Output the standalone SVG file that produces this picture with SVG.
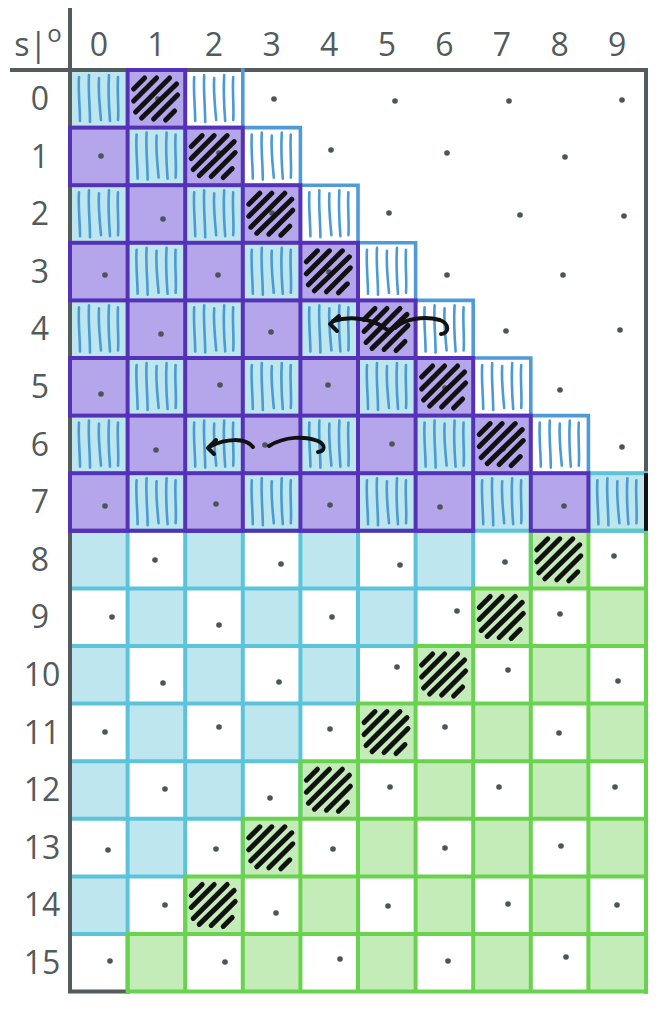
<svg xmlns="http://www.w3.org/2000/svg" xmlns:xlink="http://www.w3.org/1999/xlink" width="664" height="1010" viewBox="0 0 664 1010">
<style>
.lbl{font-family:"Open Sans","Noto Sans",sans-serif;font-size:32px;fill:#525a5b;text-anchor:middle}
.lb{fill:#bde6ee}
.gr{fill:#c4ecb8}
.pu{fill:#b5a5eb;stroke:#5432b8;stroke-width:4}
.cy{fill:none;stroke:#5bc4da;stroke-width:4;stroke-linecap:square}
.gn{fill:none;stroke:#69d34f;stroke-width:4;stroke-linecap:square}
.fr{fill:none;stroke:#535b5c;stroke-width:4;stroke-linecap:square}
.st{fill:none;stroke:#4f9bd9;stroke-width:3.6;stroke-linecap:square;stroke-linejoin:miter}
.arw{fill:none;stroke:#111;stroke-width:4;stroke-linecap:round;stroke-linejoin:round}
</style>
<defs>
<rect id="cell" width="57.6" height="57.6"/>
<g id="bh" fill="none" stroke="#4a9ad8" stroke-width="2.6" stroke-linecap="round">
<path d="M9,7 C8,20 10,38 10,51"/>
<path d="M19,5 C18,20 20,36 20,52"/>
<path d="M29,8 C28,22 30,38 31,50"/>
<path d="M39,5 C38,20 39,38 40,51"/>
<path d="M48,7 C47,22 49,38 48,50"/>
</g>
<g id="kh" fill="none" stroke="#111" stroke-width="5" stroke-linecap="round">
<path d="M6,19 L17,8"/>
<path d="M6,31 L29,8"/>
<path d="M8,42 L42,8"/>
<path d="M14,48 L49,14"/>
<path d="M26,49 L50,25"/>
<path d="M38,50 L47,41"/>
</g>
<circle id="dot" r="2.8" fill="#4b5456"/>
</defs>

<g id="labels">
<text class="lbl" x="98.8" y="56">0</text>
<text class="lbl" x="156.4" y="56">1</text>
<text class="lbl" x="214" y="56">2</text>
<text class="lbl" x="271.6" y="56">3</text>
<text class="lbl" x="329.2" y="56">4</text>
<text class="lbl" x="386.8" y="56">5</text>
<text class="lbl" x="444.4" y="56">6</text>
<text class="lbl" x="502" y="56">7</text>
<text class="lbl" x="559.6" y="56">8</text>
<text class="lbl" x="617.2" y="56">9</text>
<text class="lbl" x="40" y="110">0</text>
<text class="lbl" x="40" y="168">1</text>
<text class="lbl" x="40" y="225">2</text>
<text class="lbl" x="40" y="283">3</text>
<text class="lbl" x="40" y="340">4</text>
<text class="lbl" x="40" y="398">5</text>
<text class="lbl" x="40" y="456">6</text>
<text class="lbl" x="40" y="513">7</text>
<text class="lbl" x="40" y="571">8</text>
<text class="lbl" x="40" y="628">9</text>
<text class="lbl" x="42" y="686">10</text>
<text class="lbl" x="42" y="744">11</text>
<text class="lbl" x="42" y="801">12</text>
<text class="lbl" x="42" y="859">13</text>
<text class="lbl" x="42" y="916">14</text>
<text class="lbl" x="42" y="974">15</text>
<text class="lbl" x="38" y="56">s|<tspan font-size="24" dy="-14">o</tspan></text>
</g>

<g id="grid" transform="translate(70 70)">
<g id="fills">
<use href="#cell" class="lb" x="0" y="0"/>
<use href="#cell" class="lb" x="57.6" y="57.6"/>
<use href="#cell" class="lb" x="0" y="115.2"/>
<use href="#cell" class="lb" x="115.2" y="115.2"/>
<use href="#cell" class="lb" x="57.6" y="172.8"/>
<use href="#cell" class="lb" x="172.8" y="172.8"/>
<use href="#cell" class="lb" x="0" y="230.4"/>
<use href="#cell" class="lb" x="115.2" y="230.4"/>
<use href="#cell" class="lb" x="230.4" y="230.4"/>
<use href="#cell" class="lb" x="57.6" y="288"/>
<use href="#cell" class="lb" x="172.8" y="288"/>
<use href="#cell" class="lb" x="288" y="288"/>
<use href="#cell" class="lb" x="0" y="345.6"/>
<use href="#cell" class="lb" x="115.2" y="345.6"/>
<use href="#cell" class="lb" x="230.4" y="345.6"/>
<use href="#cell" class="lb" x="345.6" y="345.6"/>
<use href="#cell" class="lb" x="57.6" y="403.2"/>
<use href="#cell" class="lb" x="172.8" y="403.2"/>
<use href="#cell" class="lb" x="288" y="403.2"/>
<use href="#cell" class="lb" x="403.2" y="403.2"/>
<use href="#cell" class="lb" x="518.4" y="403.2"/>
<use href="#cell" class="lb" x="0" y="460.8"/>
<use href="#cell" class="lb" x="115.2" y="460.8"/>
<use href="#cell" class="lb" x="230.4" y="460.8"/>
<use href="#cell" class="lb" x="345.6" y="460.8"/>
<use href="#cell" class="lb" x="57.6" y="518.4"/>
<use href="#cell" class="lb" x="172.8" y="518.4"/>
<use href="#cell" class="lb" x="288" y="518.4"/>
<use href="#cell" class="lb" x="0" y="576"/>
<use href="#cell" class="lb" x="115.2" y="576"/>
<use href="#cell" class="lb" x="230.4" y="576"/>
<use href="#cell" class="lb" x="57.6" y="633.6"/>
<use href="#cell" class="lb" x="172.8" y="633.6"/>
<use href="#cell" class="lb" x="0" y="691.2"/>
<use href="#cell" class="lb" x="115.2" y="691.2"/>
<use href="#cell" class="lb" x="57.6" y="748.8"/>
<use href="#cell" class="lb" x="0" y="806.4"/>
<use href="#cell" class="gr" x="460.8" y="460.8"/>
<use href="#cell" class="gr" x="403.2" y="518.4"/>
<use href="#cell" class="gr" x="518.4" y="518.4"/>
<use href="#cell" class="gr" x="345.6" y="576"/>
<use href="#cell" class="gr" x="460.8" y="576"/>
<use href="#cell" class="gr" x="288" y="633.6"/>
<use href="#cell" class="gr" x="403.2" y="633.6"/>
<use href="#cell" class="gr" x="518.4" y="633.6"/>
<use href="#cell" class="gr" x="230.4" y="691.2"/>
<use href="#cell" class="gr" x="345.6" y="691.2"/>
<use href="#cell" class="gr" x="460.8" y="691.2"/>
<use href="#cell" class="gr" x="172.8" y="748.8"/>
<use href="#cell" class="gr" x="288" y="748.8"/>
<use href="#cell" class="gr" x="403.2" y="748.8"/>
<use href="#cell" class="gr" x="518.4" y="748.8"/>
<use href="#cell" class="gr" x="115.2" y="806.4"/>
<use href="#cell" class="gr" x="230.4" y="806.4"/>
<use href="#cell" class="gr" x="345.6" y="806.4"/>
<use href="#cell" class="gr" x="460.8" y="806.4"/>
<use href="#cell" class="gr" x="57.6" y="864"/>
<use href="#cell" class="gr" x="172.8" y="864"/>
<use href="#cell" class="gr" x="288" y="864"/>
<use href="#cell" class="gr" x="403.2" y="864"/>
<use href="#cell" class="gr" x="518.4" y="864"/>
</g>

<g id="blue-hatching">
<use href="#bh" x="0" y="0"/>
<use href="#bh" x="57.6" y="57.6"/>
<use href="#bh" x="0" y="115.2"/>
<use href="#bh" x="115.2" y="115.2"/>
<use href="#bh" x="57.6" y="172.8"/>
<use href="#bh" x="172.8" y="172.8"/>
<use href="#bh" x="0" y="230.4"/>
<use href="#bh" x="115.2" y="230.4"/>
<use href="#bh" x="230.4" y="230.4"/>
<use href="#bh" x="57.6" y="288"/>
<use href="#bh" x="172.8" y="288"/>
<use href="#bh" x="288" y="288"/>
<use href="#bh" x="0" y="345.6"/>
<use href="#bh" x="115.2" y="345.6"/>
<use href="#bh" x="230.4" y="345.6"/>
<use href="#bh" x="345.6" y="345.6"/>
<use href="#bh" x="57.6" y="403.2"/>
<use href="#bh" x="172.8" y="403.2"/>
<use href="#bh" x="288" y="403.2"/>
<use href="#bh" x="403.2" y="403.2"/>
<use href="#bh" x="518.4" y="403.2"/>
<use href="#bh" x="115.2" y="0"/>
<use href="#bh" x="172.8" y="57.6"/>
<use href="#bh" x="230.4" y="115.2"/>
<use href="#bh" x="288" y="172.8"/>
<use href="#bh" x="345.6" y="230.4"/>
<use href="#bh" x="403.2" y="288"/>
<use href="#bh" x="460.8" y="345.6"/>
</g>

<g id="lines">
<path class="cy" d="M0,460.8 H460.8 M0,518.4 H403.2 M0,576 H345.6 M0,633.6 H288 M0,691.2 H230.4 M0,748.8 H172.8 M0,806.4 H115.2 M0,864 H57.6 M57.6,460.8 V921.6 M115.2,460.8 V864 M172.8,460.8 V806.4 M230.4,460.8 V748.8 M288,460.8 V691.2 M345.6,460.8 V633.6 M403.2,460.8 V576 M460.8,460.8 V518.4"/>
<path class="fr" d="M-58,0 H576 V921.6 M0,-60 V921.6 H57.6"/>
<path class="gn" d="M460.8,460.8 H576 M403.2,518.4 H576 M345.6,576 H576 M288,633.6 H576 M230.4,691.2 H576 M172.8,748.8 H576 M115.2,806.4 H576 M57.6,864 H576 M57.6,921.6 H576 M57.6,864 V921.6 M115.2,806.4 V921.6 M172.8,748.8 V921.6 M230.4,691.2 V921.6 M288,633.6 V921.6 M345.6,576 V921.6 M403.2,518.4 V921.6 M460.8,460.8 V921.6 M518.4,460.8 V921.6 M576,460.8 V921.6"/>
<use href="#cell" x="518.4" y="403.2" class="cy"/>
<path d="M576,403.2 V460.8" stroke="#111" stroke-width="4"/>
<path class="st" d="M172.8,0 V57.6 H230.4 V115.2 H288 V172.8 H345.6 V230.4 H403.2 V288 H460.8 V345.6 H518.4 V403.2"/>
</g>

<g id="purple">
<use href="#cell" class="pu" x="57.6" y="0"/>
<use href="#cell" class="pu" x="0" y="57.6"/>
<use href="#cell" class="pu" x="115.2" y="57.6"/>
<use href="#cell" class="pu" x="57.6" y="115.2"/>
<use href="#cell" class="pu" x="172.8" y="115.2"/>
<use href="#cell" class="pu" x="0" y="172.8"/>
<use href="#cell" class="pu" x="115.2" y="172.8"/>
<use href="#cell" class="pu" x="230.4" y="172.8"/>
<use href="#cell" class="pu" x="57.6" y="230.4"/>
<use href="#cell" class="pu" x="172.8" y="230.4"/>
<use href="#cell" class="pu" x="288" y="230.4"/>
<use href="#cell" class="pu" x="0" y="288"/>
<use href="#cell" class="pu" x="115.2" y="288"/>
<use href="#cell" class="pu" x="230.4" y="288"/>
<use href="#cell" class="pu" x="345.6" y="288"/>
<use href="#cell" class="pu" x="57.6" y="345.6"/>
<use href="#cell" class="pu" x="172.8" y="345.6"/>
<use href="#cell" class="pu" x="288" y="345.6"/>
<use href="#cell" class="pu" x="403.2" y="345.6"/>
<use href="#cell" class="pu" x="0" y="403.2"/>
<use href="#cell" class="pu" x="115.2" y="403.2"/>
<use href="#cell" class="pu" x="230.4" y="403.2"/>
<use href="#cell" class="pu" x="345.6" y="403.2"/>
<use href="#cell" class="pu" x="460.8" y="403.2"/>
<path d="M0,460.8 H403.2" stroke="#5432b8" stroke-width="4" stroke-linecap="square"/>
</g>

<g id="dots">
<use href="#dot" x="88" y="29"/><use href="#dot" x="204" y="29"/><use href="#dot" x="325" y="31"/><use href="#dot" x="439" y="31"/><use href="#dot" x="552" y="30"/>
<use href="#dot" x="31" y="86"/><use href="#dot" x="149" y="83"/><use href="#dot" x="261" y="80"/><use href="#dot" x="377" y="83"/><use href="#dot" x="495" y="87"/>
<use href="#dot" x="93" y="149"/><use href="#dot" x="202" y="143"/><use href="#dot" x="319" y="143"/><use href="#dot" x="450" y="145"/><use href="#dot" x="554" y="146"/>
<use href="#dot" x="35" y="205"/><use href="#dot" x="148" y="205"/><use href="#dot" x="259" y="202"/><use href="#dot" x="377" y="205"/><use href="#dot" x="493" y="205"/>
<use href="#dot" x="91" y="264"/><use href="#dot" x="201" y="262"/><use href="#dot" x="319" y="260"/><use href="#dot" x="436" y="261"/><use href="#dot" x="550" y="260"/>
<use href="#dot" x="31" y="324"/><use href="#dot" x="150" y="315"/><use href="#dot" x="258" y="315"/><use href="#dot" x="375" y="318"/><use href="#dot" x="490" y="320"/>
<use href="#dot" x="86" y="380"/><use href="#dot" x="195" y="375"/><use href="#dot" x="322" y="374"/><use href="#dot" x="433" y="379"/><use href="#dot" x="552" y="377"/>
<use href="#dot" x="35" y="436"/><use href="#dot" x="146" y="434"/><use href="#dot" x="260" y="435"/><use href="#dot" x="370" y="437"/><use href="#dot" x="494" y="436"/>
<use href="#dot" x="85" y="490"/><use href="#dot" x="211" y="494"/><use href="#dot" x="330" y="495"/><use href="#dot" x="435" y="492"/><use href="#dot" x="544" y="486"/>
<use href="#dot" x="42" y="547"/><use href="#dot" x="149" y="555"/><use href="#dot" x="262" y="547"/><use href="#dot" x="387" y="541"/><use href="#dot" x="490" y="544"/>
<use href="#dot" x="93" y="613"/><use href="#dot" x="209" y="612"/><use href="#dot" x="327" y="597"/><use href="#dot" x="438" y="600"/><use href="#dot" x="548" y="611"/>
<use href="#dot" x="35" y="662"/><use href="#dot" x="149" y="657"/><use href="#dot" x="260" y="659"/><use href="#dot" x="375" y="657"/><use href="#dot" x="489" y="663"/>
<use href="#dot" x="95" y="719"/><use href="#dot" x="200" y="728"/><use href="#dot" x="320" y="717"/><use href="#dot" x="429" y="717"/><use href="#dot" x="545" y="717"/>
<use href="#dot" x="38" y="780"/><use href="#dot" x="146" y="779"/><use href="#dot" x="263" y="779"/><use href="#dot" x="375" y="778"/><use href="#dot" x="491" y="776"/>
<use href="#dot" x="95" y="835"/><use href="#dot" x="206" y="843"/><use href="#dot" x="318" y="836"/><use href="#dot" x="438" y="834"/><use href="#dot" x="547" y="835"/>
<use href="#dot" x="40" y="891"/><use href="#dot" x="155" y="892"/><use href="#dot" x="270" y="889"/><use href="#dot" x="378" y="891"/><use href="#dot" x="496" y="887"/>
</g>

<g id="black-hatching">
<use href="#kh" x="57.6" y="0"/>
<use href="#kh" x="115.2" y="57.6"/>
<use href="#kh" x="172.8" y="115.2"/>
<use href="#kh" x="230.4" y="172.8"/>
<use href="#kh" x="288" y="230.4"/>
<use href="#kh" x="345.6" y="288"/>
<use href="#kh" x="403.2" y="345.6"/>
<use href="#kh" x="460.8" y="460.8"/>
<use href="#kh" x="403.2" y="518.4"/>
<use href="#kh" x="345.6" y="576"/>
<use href="#kh" x="288" y="633.6"/>
<use href="#kh" x="230.4" y="691.2"/>
<use href="#kh" x="172.8" y="748.8"/>
<use href="#kh" x="115.2" y="806.4"/>
</g>
</g>

<g id="connectors">
<path class="arw" d="M386,329 C372,318 350,316 333,321"/>
<path class="arw" d="M339,316 L330,324 L337,331"/>
<path class="arw" d="M395,328 C405,318 425,316 440,320 C450,324 449,333 441,334"/>
<path class="arw" d="M253,447 C245,437 225,439 211,446"/>
<path class="arw" d="M216,440 L208,448 L214,454"/>
<path class="arw" d="M269,446 C285,436 305,436 318,441 C326,445 325,451 318,452"/>
</g>
</svg>
